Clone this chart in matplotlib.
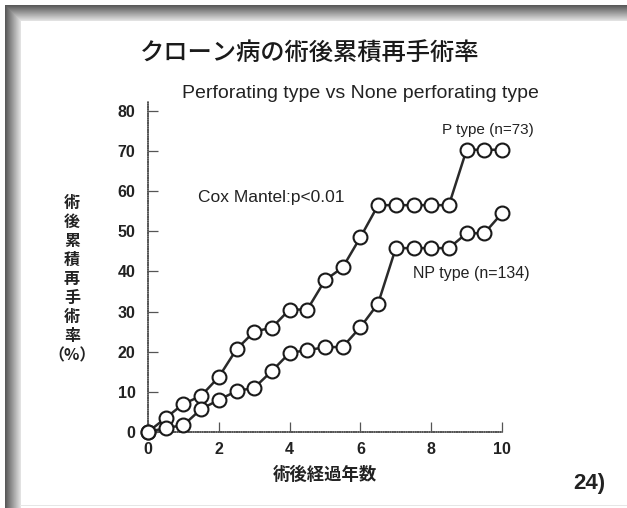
import numpy as np
import matplotlib
matplotlib.use("Agg")
import matplotlib.pyplot as plt

# ---- data ----
years = [0, 0.5, 1, 1.5, 2, 2.5, 3, 3.5, 4, 4.5, 5, 5.5, 6, 6.5, 7, 7.5, 8, 8.5, 9, 9.5, 10]
p_type = [0, 3.5, 7.0, 9.0, 13.7, 20.6, 25.0, 26.0, 30.5, 30.5, 37.8, 41.0,
          48.5, 56.5, 56.5, 56.5, 56.5, 56.5, 70.3, 70.3, 70.3]
np_type = [0, 1.0, 1.7, 5.7, 8.0, 10.2, 11.0, 15.2, 19.7, 20.4, 21.1, 21.2,
           26.1, 32.0, 45.8, 45.8, 45.8, 45.8, 49.5, 49.5, 54.5]
x_ticks = [0, 2, 4, 6, 8, 10]
y_ticks = [0, 10, 20, 30, 40, 50, 60, 70, 80]

title = "クローン病の術後累積再手術率"
subtitle = "Perforating type vs None perforating type"
ylabel_chars = ["術", "後", "累", "積", "再", "手", "術", "率", "（%）"]
xlabel = "術後経過年数"
p_label = "P type (n=73)"
np_label = "NP type (n=134)"
stat_label = "Cox Mantel:p<0.01"
ref_label = "24)"

JP = ["Noto Sans CJK JP", "DejaVu Sans"]
EN = ["Liberation Sans", "DejaVu Sans"]

W, H = 627, 508
fig = plt.figure(figsize=(W / 100, H / 100), dpi=100)
fig.patch.set_facecolor("white")

# ---- scanned slide border (decoration) ----
bg = fig.add_axes([0, 0, 1, 1], zorder=-5)
img = np.ones((H, W))
band = np.linspace(0.35, 0.88, 16)
for i, v in enumerate(band):
    img[5:, 5 + i] = np.minimum(img[5:, 5 + i], v)
    img[5 + i, 5:] = np.minimum(img[5 + i, 5:], v)
img[:5, :] = 1.0
img[:, :5] = 1.0
img[H - 3, 20:] = 0.9
bg.imshow(img, cmap="gray", vmin=0, vmax=1, aspect="auto", interpolation="nearest")
bg.set_axis_off()

# ---- main axes ----
ax = fig.add_axes([148 / W, (H - 432) / H, 354 / W, 330 / H])
ax.set_xlim(0, 10)
ax.set_ylim(0, 82.2)

line_kw = dict(color="#2a2a2a", lw=1.8, marker="o", markersize=10,
               markerfacecolor="white", markeredgecolor="#1a1a1a",
               markeredgewidth=1.5, clip_on=False, zorder=3)
ax.plot(years, p_type, **line_kw)
ax.plot(years, np_type, **line_kw)

for s in ["top", "right"]:
    ax.spines[s].set_visible(False)
for s in ["left", "bottom"]:
    ax.spines[s].set_color("#555555")
    ax.spines[s].set_linewidth(1.1)
    ax.spines[s].set_linestyle((0, (1, 0.5)))

ax.set_xticks(x_ticks)
ax.set_yticks(y_ticks)
ax.tick_params(axis="both", direction="in", length=7, width=0.9, color="#555555",
               labelsize=11.5)
ax.tick_params(axis="y", pad=9)
ax.tick_params(axis="x", pad=7)
for lab in ax.get_xticklabels() + ax.get_yticklabels():
    lab.set_fontfamily(EN)
    lab.set_fontweight("bold")
    lab.set_color("#222222")

ax.text(1.41, 58.3, stat_label, fontsize=12.5, family=EN, color="#222222",
        ha="left", va="center")
ax.text(9.6, 75.3, p_label, fontsize=11, family=EN, color="#222222",
        ha="center", va="center")
ax.text(9.12, 39.6, np_label, fontsize=11.5, family=EN, color="#222222",
        ha="center", va="center")

# ---- titles and labels ----
fig.text(310 / W, 1 - 54 / H, title, fontsize=17.5, family=JP, color="#1a1a1a",
         ha="center", va="center", fontweight="medium")
fig.text(360 / W, 1 - 94 / H, subtitle, fontsize=14, family=EN, color="#222222",
         ha="center", va="center")
for i, ch in enumerate(ylabel_chars):
    fig.text(72 / W, 1 - (203 + 19 * i) / H, ch, fontsize=11.5, family=JP,
             color="#222222", ha="center", va="center", fontweight="bold")
fig.text(325 / W, 1 - 475 / H, xlabel, fontsize=12.5, family=JP, color="#222222",
         ha="center", va="center", fontweight="bold")
fig.text(589 / W, 1 - 483 / H, ref_label, fontsize=16, family=EN, color="#222222",
         ha="center", va="center", fontweight="bold")

fig.savefig("out.png", dpi=100)
